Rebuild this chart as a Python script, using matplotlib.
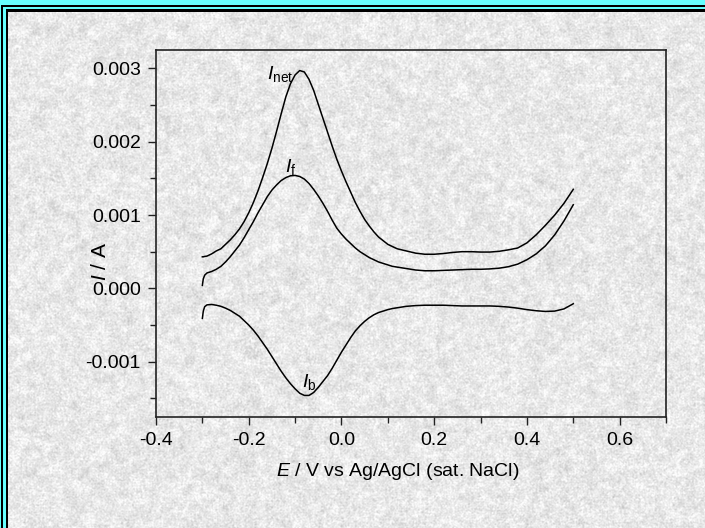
import matplotlib
matplotlib.use("Agg")
import matplotlib.pyplot as plt
from matplotlib.patches import Rectangle
from matplotlib.transforms import IdentityTransform
from matplotlib.ticker import MultipleLocator, FormatStrFormatter
import numpy as np

# potential (V) and currents (mA, scaled to A below)
E = [-0.300, -0.298, -0.295,
     -0.29, -0.28, -0.27, -0.26, -0.25, -0.24, -0.23, -0.22, -0.21, -0.20,
     -0.19, -0.18, -0.17, -0.16, -0.15, -0.14, -0.13, -0.12, -0.11, -0.10,
     -0.09, -0.08, -0.07, -0.06, -0.05, -0.04, -0.03, -0.02, -0.01, 0.00,
     0.01, 0.02, 0.03, 0.04, 0.05, 0.06, 0.07, 0.08, 0.09, 0.10,
     0.11, 0.12,
     0.14, 0.16, 0.18, 0.20, 0.22, 0.24, 0.26, 0.28, 0.30, 0.32,
     0.34, 0.36, 0.38, 0.40, 0.42, 0.44, 0.46, 0.48, 0.50]

i_net = [0.43, 0.43, 0.435,
         0.44, 0.47, 0.51, 0.54, 0.60, 0.66, 0.73, 0.81, 0.91, 1.03,
         1.17, 1.33, 1.51, 1.70, 1.91, 2.14, 2.38, 2.61, 2.79, 2.91,
         2.97, 2.95, 2.85, 2.70, 2.51, 2.32, 2.13, 1.94, 1.76, 1.60,
         1.45, 1.31, 1.17, 1.05, 0.94, 0.85, 0.77, 0.70, 0.65, 0.60,
         0.57, 0.54,
         0.51, 0.48, 0.465, 0.465, 0.475, 0.49, 0.50, 0.50, 0.495, 0.495,
         0.505, 0.525, 0.55, 0.62, 0.73, 0.86, 1.00, 1.16, 1.35]

i_f = [0.04, 0.13, 0.18,
       0.21, 0.23, 0.26, 0.30, 0.36, 0.43, 0.51, 0.59, 0.69, 0.80,
       0.91, 1.03, 1.14, 1.25, 1.34, 1.41, 1.47, 1.51, 1.535, 1.54,
       1.525, 1.49, 1.43, 1.35, 1.26, 1.16, 1.05, 0.93, 0.82, 0.74,
       0.67, 0.61, 0.55, 0.50, 0.46, 0.42, 0.39, 0.36, 0.34, 0.32,
       0.30, 0.29,
       0.27, 0.25, 0.24, 0.24, 0.245, 0.25, 0.255, 0.26, 0.26, 0.265,
       0.275, 0.295, 0.33, 0.39, 0.47, 0.58, 0.73, 0.92, 1.14]

i_b = [-0.41, -0.31, -0.25,
       -0.225, -0.22, -0.23, -0.245, -0.27, -0.30, -0.34, -0.38, -0.44, -0.50,
       -0.57, -0.65, -0.74, -0.83, -0.93, -1.03, -1.13, -1.22, -1.30, -1.37,
       -1.43, -1.46, -1.46, -1.42, -1.35, -1.27, -1.19, -1.09, -0.98, -0.87,
       -0.77, -0.67, -0.58, -0.51, -0.45, -0.40, -0.36, -0.33, -0.31, -0.29,
       -0.275, -0.265,
       -0.245, -0.235, -0.23, -0.23, -0.23, -0.235, -0.24, -0.24, -0.24, -0.24,
       -0.245, -0.255, -0.27, -0.29, -0.305, -0.315, -0.31, -0.28, -0.21]

W, H = 705, 528
plt.rcParams['font.family'] = ['Liberation Sans', 'DejaVu Sans']
plt.rcParams['mathtext.fontset'] = 'custom'
plt.rcParams['mathtext.rm'] = 'Liberation Sans'
plt.rcParams['mathtext.it'] = 'Liberation Sans:italic'

fig = plt.figure(figsize=(W / 100, H / 100), dpi=100)


def smooth(a, k):
    # box blur along both axes
    for axis in (0, 1):
        c = np.cumsum(np.pad(a, [(k, k) if i == axis else (0, 0) for i in range(2)], mode='edge'), axis=axis)
        if axis == 0:
            a = (c[2 * k:] - c[:-2 * k]) / (2 * k)
        else:
            a = (c[:, 2 * k:] - c[:, :-2 * k]) / (2 * k)
    return a


# marble-like grey backdrop
rng = np.random.default_rng(3)
fine = smooth(rng.normal(size=(H + 2, W + 2)), 1)[:H, :W]
coarse = smooth(rng.normal(size=(H + 8, W + 8)), 4)[:H, :W]
fine /= fine.std()
coarse /= coarse.std()
grey = np.clip(233 + 7 * fine + 5 * coarse, 195, 252) / 255
bg = np.dstack([grey, grey, grey])
fig.figimage(bg, xo=0, yo=0, origin='upper', zorder=-10)

# double cyan/black frame along the top and left edges (pixel units)
cyan = '#66ffff'
frame = [
    (0, H - 5, W, 5, cyan), (0, 0, 1, H, cyan),
    (1, H - 7, W - 1, 2, 'black'), (1, 0, 2, H - 5, 'black'),
    (3, H - 9, W - 3, 2, cyan), (3, 0, 3, H - 7, cyan),
    (6, H - 12, W - 6, 3, 'black'), (6, 0, 2, H - 9, 'black'),
]
for x0, y0, w, h, c in frame:
    fig.add_artist(Rectangle((x0, y0), w, h, facecolor=c, edgecolor='none',
                             lw=0, antialiased=False, transform=IdentityTransform()))

ax = fig.add_axes([156 / W, 1 - 416.7 / H, (666 - 156) / W, (416.7 - 50) / H])
ax.patch.set_alpha(0)

scale = 1e-3
for cur in (i_net, i_f, i_b):
    ax.plot(E, np.array(cur) * scale, color='black', lw=1.1)

ax.set_xlim(-0.4, 0.7)
ax.set_ylim(-0.00175, 0.00325)
ax.xaxis.set_major_locator(MultipleLocator(0.2))
ax.xaxis.set_minor_locator(MultipleLocator(0.1))
ax.yaxis.set_major_locator(MultipleLocator(0.001))
ax.yaxis.set_minor_locator(MultipleLocator(0.0005))
ax.xaxis.set_major_formatter(FormatStrFormatter('%.1f'))
ax.yaxis.set_major_formatter(FormatStrFormatter('%.3f'))

for s in ax.spines.values():
    s.set_linewidth(1.2)
    s.set_color('#222222')
ax.tick_params(which='both', direction='out', color='#222222', width=1.0,
               labelsize=14, top=False, right=False)
ax.tick_params(which='major', length=6, pad=5)
ax.tick_params(which='minor', length=4)

ax.set_xlabel(r'$\mathit{E}$ / V vs Ag/AgCl (sat. NaCl)', fontsize=14)
ax.xaxis.set_label_coords((398 - 156) / 510, -(472 - 416.7) / (416.7 - 50))
ax.xaxis.label.set_va('center')
fig.text(100 / W, 1 - 261 / H, r'$\mathit{I}$ / A', rotation=90, fontsize=15,
         ha='center', va='center')

ax.text(-0.160, 0.00278, r'$\mathit{I}_{\mathrm{net}}$', fontsize=14, ha='left', va='bottom')
ax.text(-0.121, 0.00152, r'$\mathit{I}_{\mathrm{f}}$', fontsize=14, ha='left', va='bottom')
ax.text(-0.086, -0.00141, r'$\mathit{I}_{\mathrm{b}}$', fontsize=14, ha='left', va='bottom')

fig.savefig('out.png', dpi=100)
